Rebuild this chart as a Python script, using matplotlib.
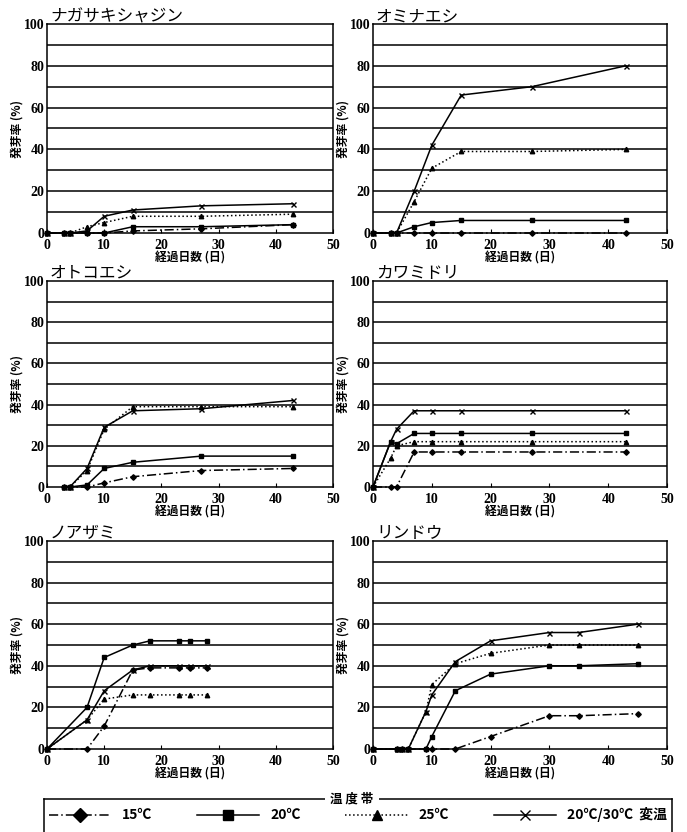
import numpy as np
import matplotlib.pyplot as plt
from matplotlib.lines import Line2D

plt.rcParams['font.family'] = ['Noto Sans CJK JP', 'DejaVu Sans']

# ---- datos ----
titulos = ["ナガサキシャジン", "オミナエシ", "オトコエシ", "カワミドリ", "ノアザミ", "リンドウ"]

dias1 = [0, 3, 4, 7, 10, 15, 27, 43]
p1_15 = [0, 0, 0, 0, 0, 1, 2, 4]
p1_20 = [0, 0, 0, 0, 0, 3, 3, 4]
p1_25 = [0, 0, 0, 3, 5, 8, 8, 9]
p1_var = [0, 0, 0, 1, 8, 11, 13, 14]

dias2 = [0, 3, 4, 7, 10, 15, 27, 43]
p2_15 = [0, 0, 0, 0, 0, 0, 0, 0]
p2_20 = [0, 0, 0, 3, 5, 6, 6, 6]
p2_25 = [0, 0, 0, 15, 31, 39, 39, 40]
p2_var = [0, 0, 0, 20, 42, 66, 70, 80]

dias3 = [3, 4, 7, 10, 15, 27, 43]
p3_15 = [0, 0, 0, 2, 5, 8, 9]
p3_20 = [0, 0, 1, 9, 12, 15, 15]
p3_25 = [0, 0, 8, 28, 39, 39, 39]
p3_var = [0, 0, 9, 29, 37, 38, 42]

dias4 = [0, 3, 4, 7, 10, 15, 27, 43]
p4_15 = [0, 0, 0, 17, 17, 17, 17, 17]
p4_20 = [0, 22, 21, 26, 26, 26, 26, 26]
p4_25 = [0, 14, 20, 22, 22, 22, 22, 22]
p4_var = [0, 22, 28, 37, 37, 37, 37, 37]

dias5 = [0, 7, 10, 15, 18, 23, 25, 28]
p5_15 = [0, 0, 11, 38, 39, 39, 39, 39]
p5_20 = [0, 20, 44, 50, 52, 52, 52, 52]
p5_25 = [0, 14, 24, 26, 26, 26, 26, 26]
p5_var = [0, 14, 28, 38, 40, 40, 40, 40]

dias6 = [0, 4, 5, 6, 9, 10, 14, 20, 30, 35, 45]
p6_15 = [0, 0, 0, 0, 0, 0, 0, 6, 16, 16, 17]
p6_20 = [0, 0, 0, 0, 0, 6, 28, 36, 40, 40, 41]
p6_25 = [0, 0, 0, 0, 18, 31, 41, 46, 50, 50, 50]
p6_var = [0, 0, 0, 0, 18, 26, 42, 52, 56, 56, 60]

paneles = [
    (dias1, p1_15, p1_20, p1_25, p1_var),
    (dias2, p2_15, p2_20, p2_25, p2_var),
    (dias3, p3_15, p3_20, p3_25, p3_var),
    (dias4, p4_15, p4_20, p4_25, p4_var),
    (dias5, p5_15, p5_20, p5_25, p5_var),
    (dias6, p6_15, p6_20, p6_25, p6_var),
]

etiquetas = ["15℃", "20℃", "25℃", "20℃/30℃  変温"]
estilos = [
    dict(ls=(0, (6, 2, 1, 2)), marker="D"),
    dict(ls="-", marker="s"),
    dict(ls=":", marker="^"),
    dict(ls="-", marker="x"),
]
tam_marcas = [2.8, 2.8, 3.2, 3.6]

# ---- figura ----
W, H = 687, 832
fig = plt.figure(figsize=(W / 100, H / 100), dpi=100)

columnas = [(47, 333), (373, 667)]
filas = [(24, 233), (281, 487), (541, 749)]

for k, (datos, titulo) in enumerate(zip(paneles, titulos)):
    c = columnas[k % 2]
    f = filas[k // 2]
    ax = fig.add_axes([c[0] / W, 1 - f[1] / H, (c[1] - c[0]) / W, (f[1] - f[0]) / H])
    x = datos[0]
    for serie, est, ms in zip(datos[1:], estilos, tam_marcas):
        ax.plot(x, serie, color="black", lw=1.1, mfc="black", mec="black", mew=1, ms=ms, **est, clip_on=False)
    ax.set_xlim(0, 50)
    ax.set_ylim(0, 100)
    for yy in range(10, 100, 10):
        ax.axhline(yy, color="black", lw=1.1, zorder=0)
    ax.set_xticks(range(0, 51, 10))
    ax.set_yticks(range(0, 101, 20))
    ax.tick_params(axis="y", length=0, pad=2)
    ax.tick_params(axis="x", length=3, direction="in", pad=4)
    for lab in ax.get_xticklabels() + ax.get_yticklabels():
        lab.set_fontfamily("Liberation Serif")
        lab.set_fontweight("bold")
        lab.set_fontsize(10)
    for sp in ax.spines.values():
        sp.set_linewidth(1.1)
    ax.set_xlabel("経過日数 (日)", fontsize=8.5, fontweight="bold", labelpad=0)
    ax.set_ylabel("発芽率 (%)", fontsize=8.5, fontweight="bold", labelpad=0)
    ax.text(0.01, 0.995, titulo, transform=ax.transAxes, fontsize=12, va="bottom", ha="left")

# ---- leyenda ----
axl = fig.add_axes([44 / W, -0.02, (672 - 44) / W, (832 - 799) / H + 0.02])
axl.set_xticks([])
axl.set_yticks([])
for sp in axl.spines.values():
    sp.set_linewidth(1.1)
axl.text(0.49, 1.0, "温 度 帯", transform=axl.transAxes, ha="center", va="center",
         fontsize=9, fontweight="bold", bbox=dict(facecolor="white", edgecolor="none", pad=4))
manijas = [Line2D([], [], color="black", lw=1.1, mfc="black", mec="black", ms=7, **e) for e in estilos]
axl.legend(manijas, etiquetas, loc="center", bbox_to_anchor=(0.5, 0.68), ncol=4, frameon=False,
           handlelength=4.5, columnspacing=3.2, numpoints=1,
           prop=dict(family=["Noto Sans CJK JP", "DejaVu Sans"], weight="bold", size=10))

fig.savefig("out.png", dpi=100)
